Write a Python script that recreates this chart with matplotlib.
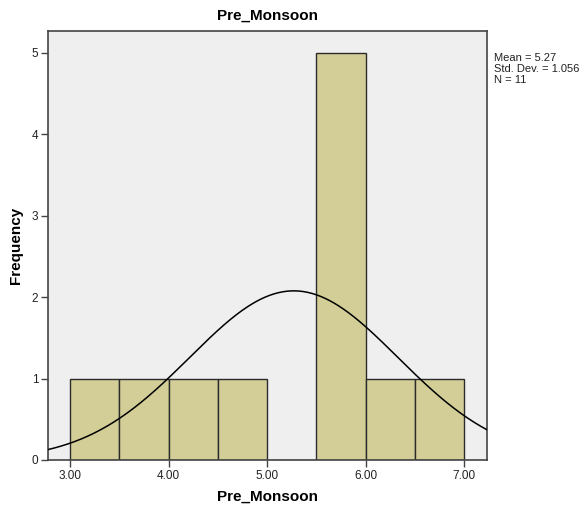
import numpy as np
import matplotlib
matplotlib.use("Agg")
import matplotlib.pyplot as plt

bin_edges = [3.0, 3.5, 4.0, 4.5, 5.0, 5.5, 6.0, 6.5, 7.0]
counts = [1, 1, 1, 1, 0, 5, 1, 1]
mean = 5.27
std_dev = 1.056
n_obs = 11
x_ticks = [3.0, 4.0, 5.0, 6.0, 7.0]
x_tick_labels = ["3.00", "4.00", "5.00", "6.00", "7.00"]
y_ticks = [0, 1, 2, 3, 4, 5]

plt.rcParams['font.family'] = ['Liberation Sans', 'DejaVu Sans']

fig = plt.figure(figsize=(5.82, 5.08), dpi=100)
ax = fig.add_axes([48/582, 1-460/508, (487-48)/582, (460-31)/508])
ax.set_facecolor('#EFEFEF')

lefts = bin_edges[:-1]
widths = np.diff(bin_edges)
ax.bar(lefts, counts, width=widths, align='edge', color='#D3CE97',
       edgecolor='#2b2b2b', linewidth=1.0, zorder=2)

xlim = (2.777, 7.23)
xs = np.linspace(xlim[0], xlim[1], 400)
bw = widths[0]
ys = n_obs * bw / (std_dev * np.sqrt(2*np.pi)) * np.exp(-0.5*((xs-mean)/std_dev)**2)
ax.plot(xs, ys, color='black', linewidth=1.1, zorder=3)

ax.set_xlim(*xlim)
ax.set_ylim(0, 5.27)
ax.set_xticks(x_ticks)
ax.set_xticklabels(x_tick_labels)
ax.set_yticks(y_ticks)
for s in ax.spines.values():
    s.set_color('#444444')
    s.set_linewidth(1.2)
ax.tick_params(axis='both', direction='out', length=5, width=1.0, color='#444444',
               labelsize=8.5, labelcolor='#222222', pad=2)

ax.set_title('Pre_Monsoon', fontsize=11, fontweight='bold', pad=8)
ax.set_xlabel('Pre_Monsoon', fontsize=11, fontweight='bold', labelpad=6)
ax.set_ylabel('Frequency', fontsize=11, fontweight='bold', labelpad=6)

fig.text(494/582, 1-53/508, f"Mean = {mean}\nStd. Dev. = {std_dev}\nN = {n_obs}",
         fontsize=8, va='top', ha='left', linespacing=1.1, color='#222222')

fig.savefig('out.png', dpi=100)
